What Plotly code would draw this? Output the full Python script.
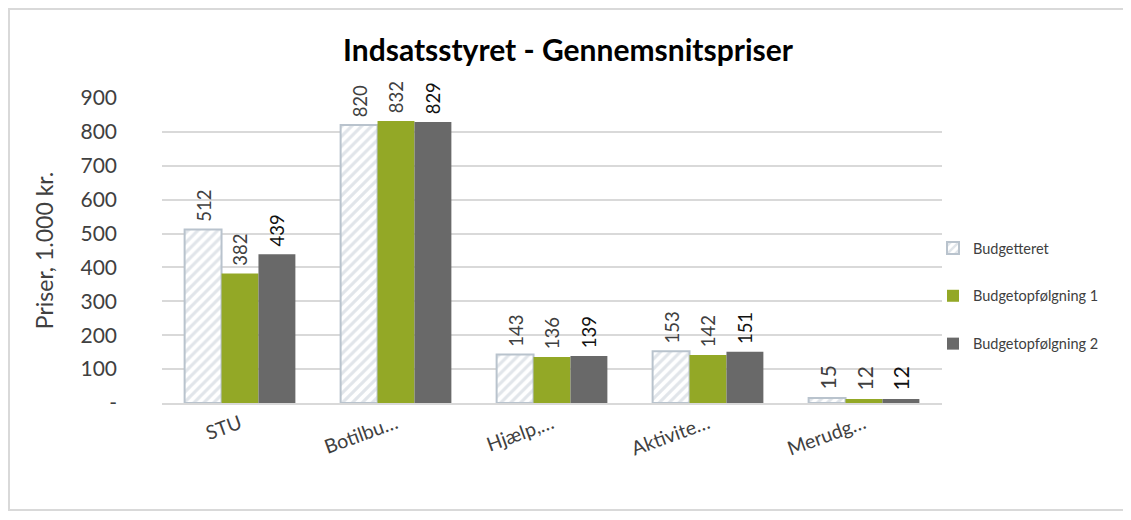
import plotly.graph_objects as go

categories = ["STU", "Botilbu…", "Hjælp,…", "Aktivite…", "Merudg…"]
budgetteret = [512, 820, 143, 153, 15]
opfoelgning1 = [382, 832, 136, 142, 12]
opfoelgning2 = [439, 829, 139, 151, 12]
series_names = ["Budgetteret", "Budgetopfølgning 1", "Budgetopfølgning 2"]
tick_vals = [0, 100, 200, 300, 400, 500, 600, 700, 800, 900]
tick_text = ["-", "100", "200", "300", "400", "500", "600", "700", "800", "900"]

FONT = "Lato, 'Open Sans', sans-serif"
OFF = 8  # page body margin offset

PL, PR, PT, PB = 162 - OFF, 942 - OFF, 98 - OFF, 403 - OFF


def labels(vals):
    return ["\u00a0" + str(v) for v in vals]


fig = go.Figure()
fig.add_trace(go.Bar(
    name=series_names[0], x=categories, y=budgetteret, legendgroup="a",
    marker=dict(color="white", line=dict(color="#b9c3cd", width=2),
                pattern=dict(shape="/", fgcolor="#c3ccd6", bgcolor="white", size=7, solidity=0.45)),
    text=labels(budgetteret), textposition="outside", textangle=-90,
    textfont=dict(size=21, color="#404040", family=FONT), cliponaxis=False,
))
fig.add_trace(go.Bar(
    name=series_names[1], x=categories, y=opfoelgning1, legendgroup="b",
    marker=dict(color="#93a826", line=dict(width=0)),
    text=labels(opfoelgning1), textposition="outside", textangle=-90,
    textfont=dict(size=21, color="#404040", family=FONT), cliponaxis=False,
))
fig.add_trace(go.Bar(
    name=series_names[2], x=categories, y=opfoelgning2, legendgroup="c",
    marker=dict(color="#696969", line=dict(width=0)),
    text=labels(opfoelgning2), textposition="outside", textangle=-90,
    textfont=dict(size=21, color="#111111", family=FONT), cliponaxis=False,
))

fig.update_layout(
    width=1131, height=520,
    paper_bgcolor="white", plot_bgcolor="white",
    font=dict(family=FONT, color="#404040"),
    margin=dict(l=PL, r=1131 - PR, t=PT, b=520 - PB, autoexpand=False),
    barmode="group", bargap=0.29, bargroupgap=0,
    uniformtext=dict(mode=False),
    title=dict(text="<b>Indsatsstyret - Gennemsnitspriser</b>", x=(568 - OFF) / 1131, xanchor="center",
               y=1 - (50 - OFF) / 520, yanchor="middle", yref="container",
               font=dict(size=30, color="#000000", family=FONT)),
    legend=dict(x=(933 - 162) / 780, xanchor="left", y=(403 - 296) / 305, yanchor="middle",
                font=dict(size=14.5, color="#404040", family=FONT),
                traceorder="grouped", tracegroupgap=26, itemwidth=30,
                bgcolor="rgba(0,0,0,0)"),
    xaxis=dict(tickangle=-20, tickfont=dict(size=19.5, color="#404040", family=FONT),
               showline=True, linecolor="#d9d9d9", linewidth=2, showgrid=False,
               ticks="", automargin=False),
    yaxis=dict(range=[0, 900], tickvals=tick_vals, ticktext=tick_text,
               tickfont=dict(size=21, color="#404040", family=FONT),
               showgrid=True, gridcolor="#d9d9d9", gridwidth=1.5, zeroline=False,
               showline=False, ticks="", ticklabelstandoff=44,
               title=dict(text="Priser, 1.000 kr.", font=dict(size=23, color="#404040", family=FONT),
                          standoff=20),
               automargin=False),
    shapes=[dict(type="rect", xref="paper", yref="paper",
                 x0=(9 - 162) / 780, x1=(1125 - 162) / 780,
                 y0=(403 - 510) / 305, y1=(403 - 9) / 305,
                 line=dict(color="#d9d9d9", width=2), fillcolor="rgba(0,0,0,0)", layer="below")],
)

fig.write_html("out.html")
